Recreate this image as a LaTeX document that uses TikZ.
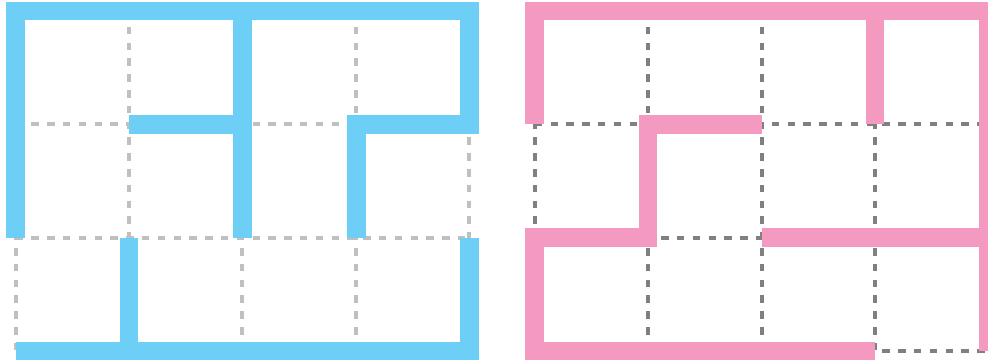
\documentclass[tikz,border=0pt]{standalone}
\usetikzlibrary{calc}
\definecolor{mazeblue}{HTML}{6DCFF6}
\definecolor{mazepink}{HTML}{F49AC1}
\definecolor{gridlight}{HTML}{C0C0C0}
\definecolor{griddark}{HTML}{808080}
\tikzset{
  gridline/.style={line width=4pt, dash pattern=on 7.5pt off 8.3pt},
  wall/.style={line width=18.7pt, line cap=butt, line join=miter},
}
\begin{document}
\begin{tikzpicture}[x=1pt,y=-1pt]
\useasboundingbox (0,0) rectangle (988,364);
\fill[white] (0,0) rectangle (988,364);
% ---------- blue maze ----------
\foreach \i in {0,...,4}{
  \draw[gridline,gridlight] ({15.5+113.45*\i},11) -- ({15.5+113.45*\i},351);
}
\foreach \j in {0,...,3}{
  \draw[gridline,gridlight] (15.5,{11+113.33*\j}) -- (469.3,{11+113.33*\j});
}
\coordinate (b00) at (15.5,11);
\draw[wall,mazeblue] (356.4,237.7) -- (356.4,124.3) -- (469.3,124.3) -- (469.3,11) -- (15.5,11) -- (15.5,237.7);
\draw[wall,mazeblue] (242.4,11) -- (242.4,237.7);
\draw[wall,mazeblue] (129,124.3) -- (242.4,124.3);
\draw[wall,mazeblue] (129,237.7) -- (129,351);
\draw[wall,mazeblue] (15.5,351) -- (469.3,351) -- (469.3,237.7);
% ---------- pink maze ----------
\foreach \i in {0,...,4}{
  \draw[gridline,griddark] ({534.7+113.4*\i},11) -- ({534.7+113.4*\i},351);
}
\foreach \j in {0,...,3}{
  \draw[gridline,griddark] (534.7,{11+113.33*\j}) -- (988.3,{11+113.33*\j});
}
\draw[wall,mazepink] (534.7,124.3) -- (534.7,11) -- (988.3,11) -- (988.3,351);
\draw[wall,mazepink] (874.9,11) -- (874.9,124.3);
\draw[wall,mazepink] (761.5,124.3) -- (648.1,124.3) -- (648.1,237.7) -- (534.7,237.7) -- (534.7,351) -- (874.9,351);
\draw[wall,mazepink] (761.5,237.7) -- (988.3,237.7);
\end{tikzpicture}
\end{document}
